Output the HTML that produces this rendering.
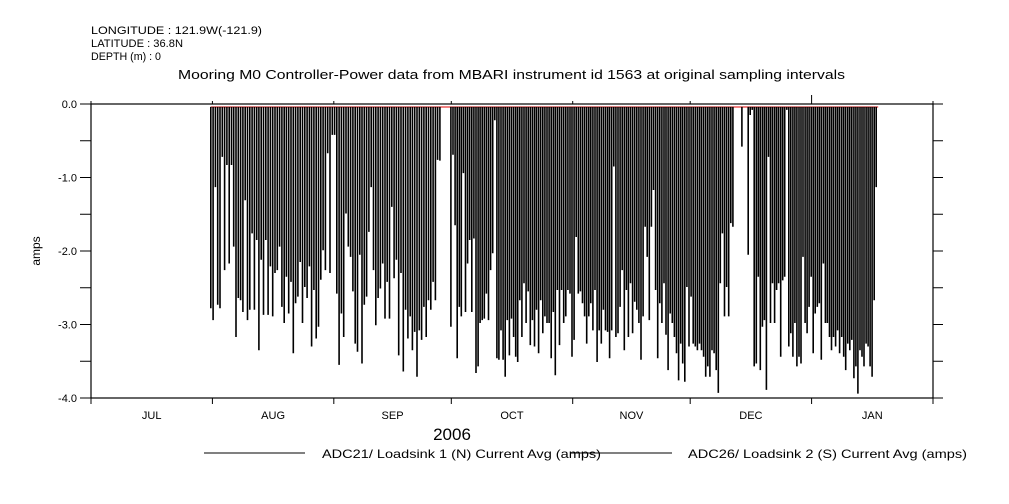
<!DOCTYPE html>
<html><head><meta charset="utf-8"><style>
html,body{margin:0;padding:0;background:#fff;}
svg{display:block;font-family:"Liberation Sans",sans-serif;}
</style></head><body>
<svg id="chart" width="1009" height="504" viewBox="0 0 1009 504" xmlns="http://www.w3.org/2000/svg">
<g font-size="11" fill="#000">
<text x="91" y="34" textLength="171" lengthAdjust="spacingAndGlyphs">LONGITUDE : 121.9W(-121.9)</text>
<text x="91" y="47" textLength="92" lengthAdjust="spacingAndGlyphs">LATITUDE : 36.8N</text>
<text x="91" y="60" textLength="70" lengthAdjust="spacingAndGlyphs">DEPTH (m) : 0</text>
</g>
<text x="178" y="79" font-size="12.5" textLength="667" lengthAdjust="spacingAndGlyphs">Mooring M0 Controller-Power data from MBARI instrument id 1563 at original sampling intervals</text>
<g id="axes"></g>
<g id="marks"></g>
<text x="40" y="251" text-anchor="middle" font-size="12" transform="rotate(-90 40 251)">amps</text>
<text x="452" y="440" text-anchor="middle" font-size="17">2006</text>
<g font-size="12">
<line x1="204" y1="453" x2="305" y2="453" stroke="#000" stroke-width="1"/>
<text x="322" y="458" textLength="279" lengthAdjust="spacingAndGlyphs">ADC21/ Loadsink 1 (N) Current Avg (amps)</text>
<line x1="570" y1="453" x2="672" y2="453" stroke="#000" stroke-width="1"/>
<text x="688" y="458" textLength="279" lengthAdjust="spacingAndGlyphs">ADC26/ Loadsink 2 (S) Current Avg (amps)</text>
</g>
</svg>
<script>
// days since Jul 1 2006
const monthLabels = ["JUL","AUG","SEP","OCT","NOV","DEC","JAN"];
const monthStartDays = [0,31,62,92,123,153,184,215];
const yTicks = [0,-0.5,-1,-1.5,-2,-2.5,-3,-3.5,-4];
const yTickLabels = ["0.0","","-1.0","","-2.0","","-3.0","","-4.0"];
const segStartDays = [30.6, 91.9, 166.2, 167.8];
const segEndDays = [89.1, 163.9, 166.2, 200.5];
const segA = [-2.78,-2.94,-1.13,-2.73,-2.78,-0.72,-2.26,-0.83,-2.17,-0.83,-1.94,-3.17,-2.64,-2.67,-2.83,-1.31,-2.94,-2.80,-1.76,-2.80,-1.85,-3.35,-2.12,-2.87,-1.85,-2.87,-2.21,-2.89,-2.30,-2.26,-1.94,-2.76,-2.98,-2.35,-2.85,-2.42,-3.39,-2.71,-2.62,-2.15,-2.98,-2.49,-2.64,-2.21,-3.30,-2.53,-3.19,-3.03,-2.39,-1.99,-2.26,-0.67,-2.30,-0.42,
-0.42,-2.58,-3.55,-2.85,-3.17,-1.49,-1.94,-2.08,-2.55,-3.26,-3.37,-2.05,-3.53,-2.73,-2.62,-1.74,-1.13,-2.26,-3.01,-2.64,-2.51,-2.17,-2.92,-2.42,-2.92,-1.40,-2.37,-2.12,-3.42,-2.30,-3.64,-2.80,-3.19,-2.89,-3.35,-3.10,-3.71,-3.08,-3.21,-2.76,-3.17,-2.67,-2.80,-2.42,-2.67,-0.76,-0.77];
const segB = [-3.03,-0.69,-1.65,-3.46,-2.76,-2.89,-0.94,-2.83,-2.17,-1.85,-2.83,-1.83,-3.66,
-3.57,-2.98,-2.94,-2.92,-2.58,-2.94,-2.26,-2.03,-0.22,-3.46,-3.48,-3.08,-3.48,-3.71,-2.94,-3.42,-2.92,-3.17,-3.44,-3.51,-2.67,-3.17,-2.44,-2.98,-2.55,-3.28,-2.94,-3.30,-2.80,-3.39,-2.67,-3.12,-2.89,-2.98,-2.98,-3.46,-2.83,-3.69,-2.53,-3.28,-2.53,-2.98,-2.89,-2.53,-2.58,-3.44,-3.21,-1.81,-2.58,-2.55,-2.71,-2.89,-3.26,-2.89,-2.71,-3.08,-2.53,-3.51,-3.08,-3.26,-2.80,-3.08,-3.10,-3.46,-3.08,-0.85,-3.17,-3.12,-2.76,-2.26,-3.35,-2.53,-3.17,-2.44,-3.12,-2.69,-2.80,-2.98,-3.48,-2.89,-1.67,-2.08,-2.94,-1.67,-1.17,-2.53,-3.46,-2.71,-2.98,-2.44,-3.14,-3.62,-2.85,-2.98,-3.17,-3.39,-3.76,-3.26,-3.53,-3.78,-2.49,-3.30,-2.62,-3.26,-3.30,-3.35,-3.26,-3.35,-3.44,-3.71,-3.57,-3.71,-3.35,-3.39,-3.62,-3.93,-2.44,-1.76,-2.89,-2.49,-2.89,-1.62,-1.67];
const segC = [-0.58];
const segD = [-2.05,-0.15,-0.08,-3.57,-3.53,-2.35,-3.62,-3.03,-2.94,-3.89,-0.72,-2.98,-2.44,-2.98,-2.53,-2.44,-3.44,-2.40,-2.35,-0.08,-3.30,-3.12,-3.44,-2.98,-3.57,-3.44,-3.53,-2.08,-2.98,-3.12,-2.76,-2.35,-3.39,-2.85,-2.76,-2.71,-3.48,-2.17,-2.98,-2.98,-3.17,-3.35,-3.17,-3.30,-3.08,-3.39,-3.17,-3.44,-3.62,-3.26,-3.35,-3.21,-3.73,-3.57,-3.94,-3.35,-3.44,-3.57,-3.26,-3.30,-3.57,-3.71,-2.67,-1.13];
const seriesTop = -0.04;
const series2Value = -0.04;
const series2Days = [30.6, 201];

const X0=91, X1=933, Y0=104, Y1=398, DMAX=215, VMIN=-4, VMAX=0;
const xs = d => X0 + d/DMAX*(X1-X0);
const ys = v => Y0 + (VMAX - v)/(VMAX-VMIN)*(Y1-Y0);
const NS="http://www.w3.org/2000/svg";
function mk(tag, attrs, parent){const e=document.createElementNS(NS,tag);for(const k in attrs)e.setAttribute(k,attrs[k]);parent.appendChild(e);return e;}
const axes=document.getElementById('axes'), marks=document.getElementById('marks');

const frame=mk('rect',{x:X0,y:Y0,width:X1-X0,height:Y1-Y0,fill:'none',stroke:'#000','stroke-width':1.2},axes);



yTicks.forEach((t,i)=>{
  const y=ys(t);
  const l=mk('line',{x1:X0-11,x2:X0,y1:y,y2:y,stroke:'#000','stroke-width':1},axes);
  
  
  const r=mk('line',{x1:X1,x2:X1+10,y1:y,y2:y,stroke:'#000','stroke-width':1},axes);
  
  
  if(yTickLabels[i]){
    const tx=mk('text',{x:X0-14,y:y+4,'text-anchor':'end','font-size':11},axes);
    tx.textContent=yTickLabels[i];
    
    
  }
});
monthStartDays.forEach((d,i)=>{
  const x=xs(d);
  const l=mk('line',{x1:x,x2:x,y1:Y1,y2:Y1+6,stroke:'#000','stroke-width':1},axes);
  
  
  const t=mk('line',{x1:x,x2:x,y1:Y0-(i===6?9:3),y2:Y0,stroke:'#000','stroke-width':1},axes);
  
  
  if(i<monthLabels.length){
    const mid=(d+monthStartDays[i+1])/2;
    const tx=mk('text',{x:xs(mid),y:419,'text-anchor':'middle','font-size':11},axes);
    tx.textContent=monthLabels[i];
    
    
  }
});

const p2=mk('line',{x1:xs(series2Days[0]),x2:xs(series2Days[1]),y1:ys(series2Value),y2:ys(series2Value),stroke:'#e00000','stroke-width':1},marks);



const segs=[segA,segB,segC,segD];
let path='';
segs.forEach((vals,s)=>{
  const a=segStartDays[s], b=segEndDays[s], n=vals.length;
  vals.forEach((v,i)=>{
    const d = n>1 ? a+(b-a)*i/(n-1) : a;
    const x=xs(d).toFixed(1);
    path+=`M${x} ${ys(seriesTop).toFixed(1)}V${ys(v).toFixed(1)}`;
  });
});
const p1=mk('path',{d:path,stroke:'#000','stroke-width':1.6,fill:'none'},marks);


</script>
</body></html>
